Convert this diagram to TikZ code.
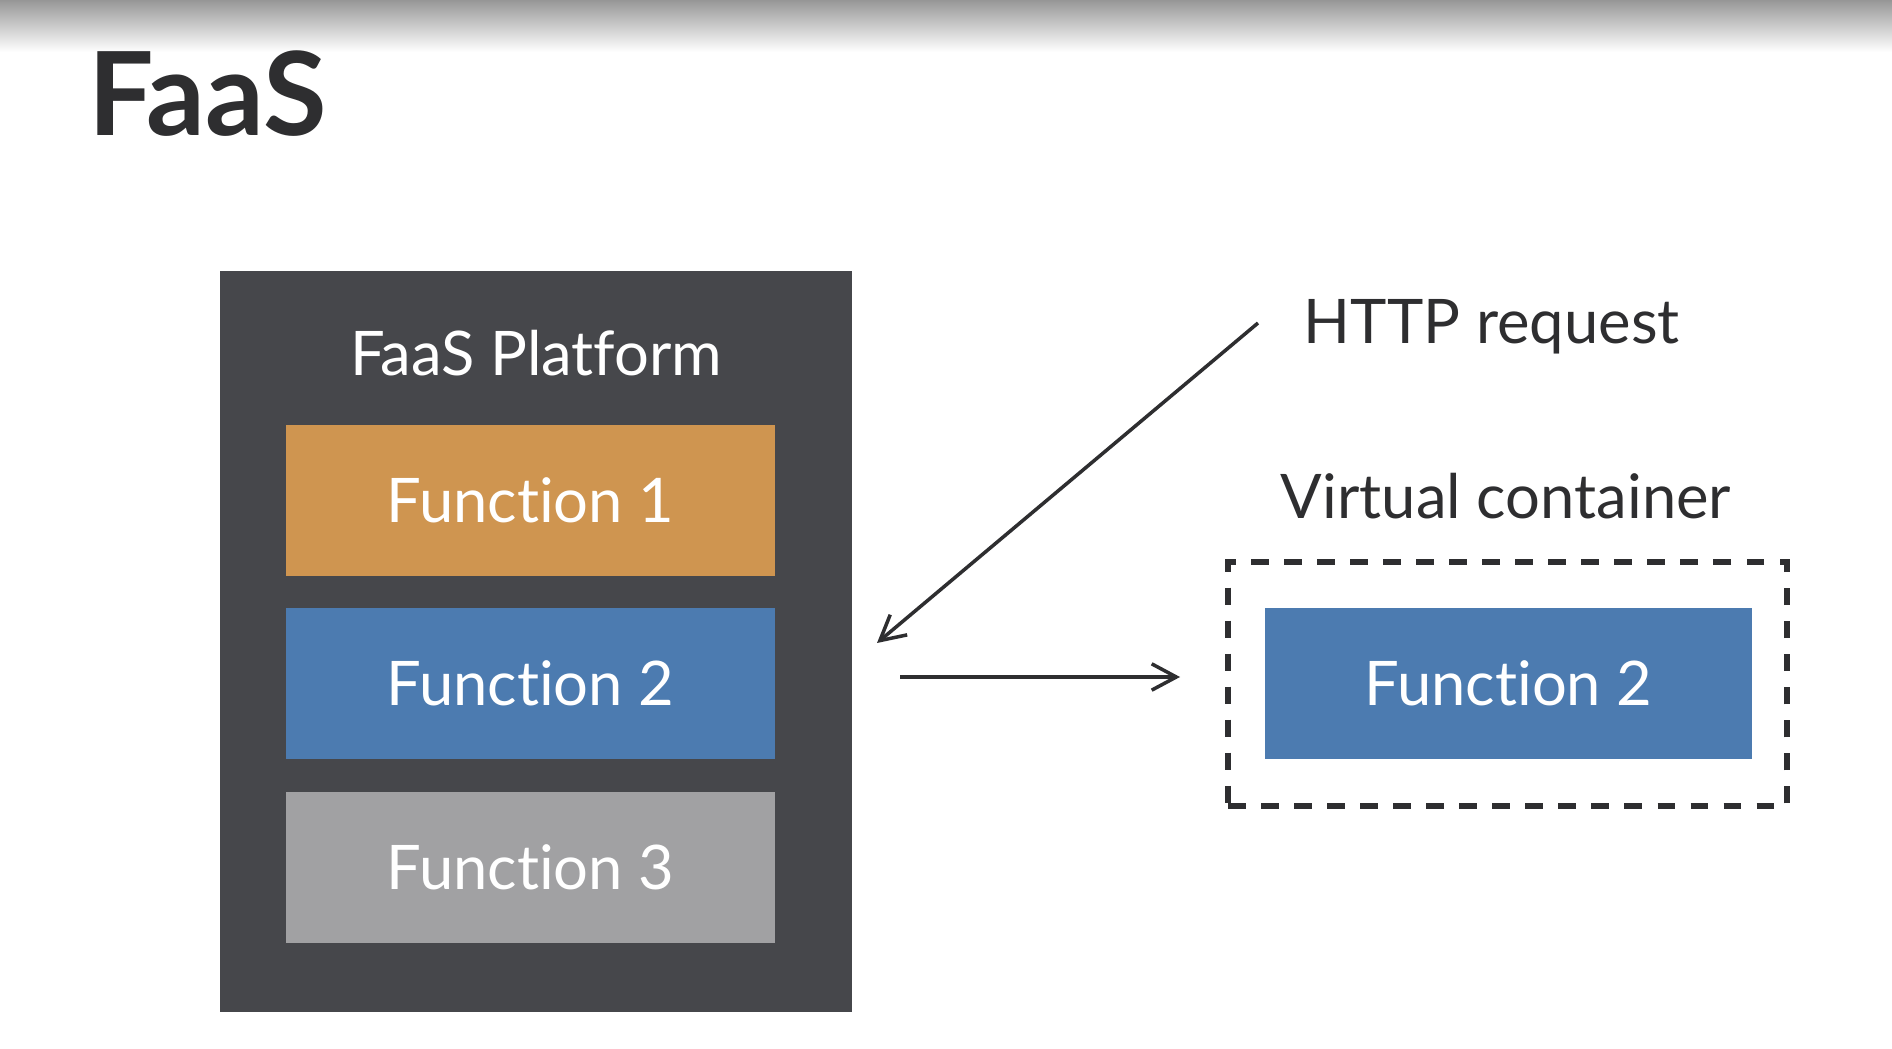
\documentclass[tikz,border=0pt]{standalone}
\usepackage{fontspec}
\setmainfont{Lato}[Ligatures=NoCommon]
\usepackage{tikz}
\usetikzlibrary{arrows.meta,positioning}

\definecolor{slate}{HTML}{46474B}
\definecolor{fnorange}{HTML}{CF9550}
\definecolor{fnblue}{HTML}{4C7BB0}
\definecolor{fngray}{HTML}{A1A1A3}
\definecolor{ink}{HTML}{2E2E30}

\begin{document}
\begin{tikzpicture}[
  fnbox/.style={minimum width=4.89cm,minimum height=1.51cm,inner sep=0pt,text=white,font=\fontsize{17.5}{20}\selectfont},
  plaintext/.style={inner sep=0pt,text=ink,font=\fontsize{17.5}{20}\selectfont},
  link/.style={ink,line width=1pt,-{Straight Barb[length=7pt,width=7.5pt]}}
]
\useasboundingbox[fill=white] (0,0) rectangle (18.92,10.48);
% top shadow and title
\shade[top color=black!41,bottom color=white] (0,9.96) rectangle (18.92,10.48);
\node[anchor=base west,inner sep=0pt,text=ink,font=\bfseries\fontsize{33}{36}\selectfont] (title) at (0.88,9.12) {FaaS};
% platform with its functions
\node[fill=slate,minimum width=6.32cm,minimum height=7.41cm,inner sep=0pt] (platform) at (5.36,4.065) {};
\node[plaintext,text=white,anchor=base] (platlabel) at (5.36,6.72) {FaaS Platform};
\foreach \i/\c/\y in {1/fnorange/5.475,2/fnblue/3.645,3/fngray/1.81}{
  \node[fnbox,fill=\c] (fn\i) at (5.305,\y) {Function \i};
}
% request and container
\node[plaintext,anchor=base west] (request) at (13.03,7.04) {HTTP request};
\node[plaintext,anchor=base] (vclabel) at (15.06,5.29) {Virtual container};
\node[draw=ink,line width=1.9pt,dash pattern=on 5pt off 4.4pt,minimum width=5.59cm,minimum height=2.44cm,inner sep=0pt] (vc) at (15.075,3.64) {};
\node[fnbox,fill=fnblue,minimum width=4.87cm] (vcfn) at (15.085,3.645) {Function 2};
% arrows
\coordinate (reqtail) at (12.58,7.25);
\coordinate (reqtip) at (8.77,4.05);
\coordinate (calltail) at (9.00,3.71);
\coordinate (calltip) at (11.80,3.71);
\draw[link] (reqtail) -- (reqtip);
\draw[link] (calltail) -- (calltip);
\end{tikzpicture}
\end{document}
